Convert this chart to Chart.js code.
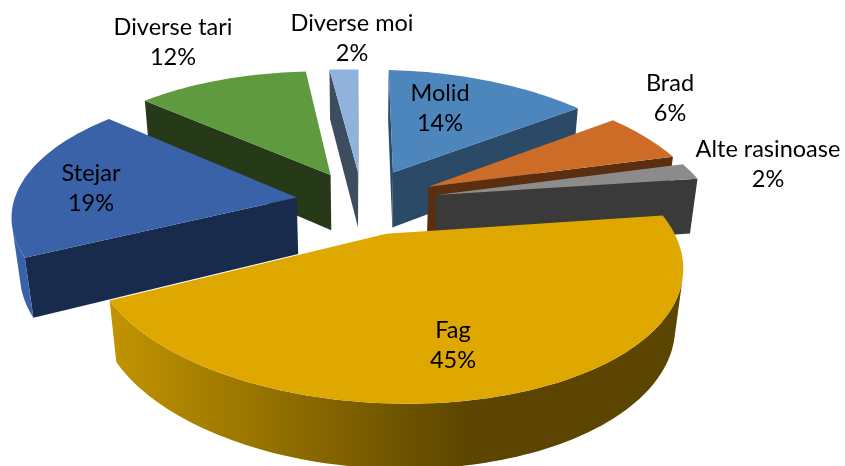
<!DOCTYPE html>
<html>
<head>
<meta charset="utf-8">
<title>Fag 45%</title>
<script src="https://cdn.jsdelivr.net/npm/chart.js@4"></script>
<style>
    html, body { margin: 0; padding: 0; background: #fff; }
    canvas { display: block; }
</style>
</head>
<body>
<canvas id="pieChart" width="845" height="466"></canvas>
<script>
const categories = ['Molid', 'Brad', 'Alte rasinoase', 'Fag', 'Stejar', 'Diverse tari', 'Diverse moi'];
const shares = [14, 6, 2, 45, 19, 12, 2];

const topColors = ['#4c86bc', '#cc6c27', '#8c8c8c', '#dfa800', '#3a62a8', '#5f9a3e', '#8fb3dc'];
const wallColors = ['#2b4a68', '#5a2e0f', '#3a3a3a', '#5b4500', '#182b4d', '#263a19', '#3d4c5e'];
const rimColors = ['#2b4a68', '#5a2e0f', '#6a6a6a', '#c29400', '#3a62a8', '#263a19', '#3d4c5e'];
const explode = [46, 47, 47, 42, 40, 41, 41];
const drawOrder = [6, 5, 0, 4, 1, 2, 3]; // spate -> fata
const labelPos = [[440, 108], [670, 98], [768, 164], [453, 345], [91, 188], [173, 42], [352, 38]];

// proiectie in perspectiva a planului plăcintei
const view = { scaleX: 280, scaleY: 129, depth: 58, k: 0.169, lean: 0.024, roll: 7 };

function project(el, X, Y, z) {
    const w = 1 + view.k * Y + view.lean * z;
    return {
        x: el.x + view.scaleX * X / w,
        y: el.y + (-view.scaleY * Y + view.roll * X + view.depth * z) / w
    };
}

function fillPoly(ctx, pts, fill) {
    ctx.beginPath();
    pts.forEach((p, i) => i ? ctx.lineTo(p.x, p.y) : ctx.moveTo(p.x, p.y));
    ctx.closePath();
    ctx.fillStyle = fill;
    ctx.fill();
}

function signedArea(pts) {
    let s = 0;
    pts.forEach((p, i) => {
        const q = pts[(i + 1) % pts.length];
        s += p.x * q.y - q.x * p.y;
    });
    return s / 2;
}

function drawSlice(ctx, el, i) {
    const R = el.outerRadius;
    const mid = (el.startAngle + el.endAngle) / 2;
    const ox = Math.cos(mid) * el.options.offset / R;
    const oy = -Math.sin(mid) * el.options.offset / R;
    const at = (a, r, z) => project(el, ox + r * Math.cos(a), oy - r * Math.sin(a), z);

    const steps = Math.max(4, Math.round((el.endAngle - el.startAngle) * 40));
    const angles = [];
    for (let s = 0; s <= steps; s++) {
        angles.push(el.startAngle + (el.endAngle - el.startAngle) * s / steps);
    }

    // peretii taiati
    [el.startAngle, el.endAngle].forEach((a, n) => {
        const quad = [at(a, 0, 0), at(a, 1, 0), at(a, 1, 1), at(a, 0, 1)];
        const front = n === 0 ? signedArea(quad) < 0 : signedArea(quad) > 0;
        if (front) fillPoly(ctx, quad, wallColors[i]);
    });

    // marginea rotunjita, dintr-o bucata ca sa nu apara dungi
    const grad = ctx.createLinearGradient(110, 0, 470, 0);
    grad.addColorStop(0, rimColors[i]);
    grad.addColorStop(1, wallColors[i]);
    let upper = [], lower = [];
    const flush = () => {
        if (upper.length) fillPoly(ctx, upper.concat(lower.reverse()), grad);
        upper = [];
        lower = [];
    };
    for (let s = 0; s < steps; s++) {
        const quad = [at(angles[s], 1, 0), at(angles[s + 1], 1, 0), at(angles[s + 1], 1, 1), at(angles[s], 1, 1)];
        if (signedArea(quad) < 0) {
            if (!upper.length) {
                upper.push(quad[0]);
                lower.push(quad[3]);
            }
            upper.push(quad[1]);
            lower.push(quad[2]);
        } else {
            flush();
        }
    }
    flush();

    // fata de sus
    const face = [at(0, 0, 0)];
    angles.forEach(a => face.push(at(a, 1, 0)));
    fillPoly(ctx, face, el.options.backgroundColor);
}

const pie3d = {
    id: 'pie3d',
    beforeDatasetsDraw(chart) {
        const arcs = chart.getDatasetMeta(0).data;
        drawOrder.forEach(i => drawSlice(chart.ctx, arcs[i], i));
        return false; // desenul normal nu mai e necesar
    },
    afterDraw(chart) {
        const ctx = chart.ctx;
        ctx.save();
        ctx.fillStyle = '#000';
        ctx.font = '23.5px Lato, "Open Sans", sans-serif';
        ctx.textAlign = 'center';
        ctx.textBaseline = 'middle';
        categories.forEach((name, i) => {
            const [x, y] = labelPos[i];
            ctx.fillText(name, x, y - 15);
            ctx.fillText(shares[i] + '%', x, y + 15);
        });
        ctx.restore();
    }
};

new Chart(document.getElementById('pieChart'), {
    type: 'pie',
    data: {
        labels: categories,
        datasets: [{
            data: shares,
            backgroundColor: topColors,
            borderWidth: 0,
            offset: explode
        }]
    },
    options: {
        responsive: false,
        animation: false,
        radius: 170,
        layout: { padding: { right: 121, bottom: 62 } },
        plugins: { legend: { display: false }, tooltip: { enabled: false } }
    },
    plugins: [pie3d]
});
</script>
</body>
</html>
